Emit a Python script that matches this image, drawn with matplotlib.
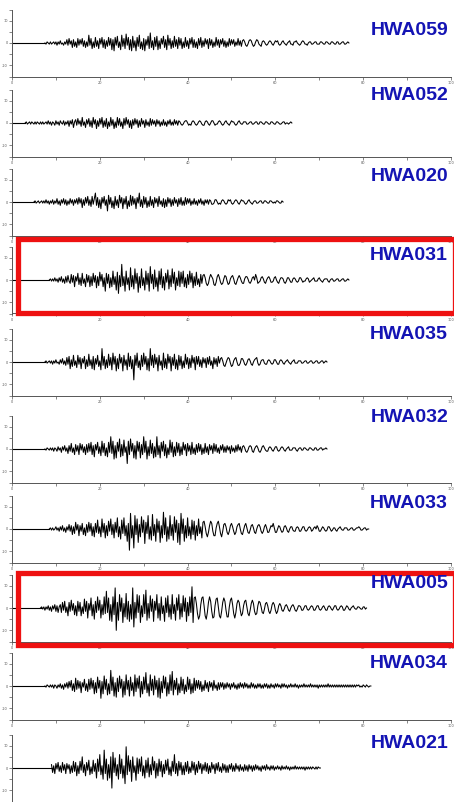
import numpy as np
import matplotlib.pyplot as plt
from matplotlib.patches import Rectangle

# station names, top to bottom
stations = ['HWA059', 'HWA052', 'HWA020', 'HWA031', 'HWA035',
            'HWA032', 'HWA033', 'HWA005', 'HWA034', 'HWA021']
highlighted = ['HWA031', 'HWA005']

# onset time (s) of each trace, then one sample every dt seconds
onsets = [7.5, 3.0, 5.0, 8.5, 7.5, 7.5, 8.5, 6.5, 7.5, 9.0]
dt = 0.25

# amplitudes, in half units (one row = 5 s)
hwa059 = [0, -1, 1, 0, -1, 1, -1, 0, 1, -1, 1, -2, 1, -1, 2, -1, 0, -2, 1, -1,
          3, -2, 4, -1, 2, -4, 3, -3, 1, -4, 4, -2, 3, -1, 4, -3, 2, -4, 1, -3,
          7, -2, 4, -5, 1, -4, 5, -3, 2, -5, 4, -1, 5, -4, 3, -5, 2, -3, 5, -2,
          4, -6, 3, -7, 5, -2, 6, -4, 1, -6, 7, -3, 4, -5, 8, -2, 5, -6, 3, -7,
          6, -4, 2, -7, 5, -3, 7, -5, 1, -6, 4, -7, 3, -2, 6, -5, 9, -4, 2, -6,
          5, -3, 6, -6, 2, -5, 4, -1, 6, -4, 3, -6, 7, -2, 4, -5, 2, -4, 6, -3,
          3, -5, 5, -2, 4, -5, 1, -4, 5, -3, 2, -5, 4, -1, 5, -4, 3, -4, 1, -5,
          4, -2, 5, -4, 2, -3, 4, -1, 3, -5, 4, -2, 3, -4, 1, -3, 5, -2, 3, -4,
          3, -1, 4, -3, 2, -4, 1, -3, 4, -2, 3, -1, 3, -3, 1, -2, 4, -2, 2, -3,
          2, 3, 1, -2, -3, -1, 2, 3, 2, -1, -3, -2, 1, 3, 2, -1, -2, -3, 1, 2,
          1, -1, -2, -1, 1, 2, 1, -1, -2, 0, 2, 1, 2, -1, -2, -1, 1, 2, 0, -1,
          -2, 0, 1, 2, -1, -1, -2, 1, 1, 2, 0, -1, -2, -1, 1, 2, 1, -1, -1, -2,
          0, 1, 1, -1, -1, 0, 1, 1, -1, -1, -1, 1, 1, 0, -1, -1, 1, 1, 0, -1,
          -1, 1, 1, 0, -1, -1, 1, 1, -1, -1, 0, 1, 1, -1, -1, 0, 1, 0]
hwa052 = [0, 1, -1, 0, 1, -1, 1, 0, -1, 1, -1, 1, 0, -1, 1, -1, 1, -1, 0, 1,
          -1, 2, -1, 1, -2, 1, 0, -2, 2, -1, 1, -2, 2, 0, -1, 2, -2, 1, -1, 2,
          -3, 2, -1, 3, -4, 1, 3, -2, 4, -1, 2, -3, 5, -2, 1, -4, 3, -1, 4, -3,
          2, -4, 5, -1, 3, -5, 2, -3, 4, -1, 5, -4, 2, -3, 4, -5, 1, -3, 5, -2,
          3, -5, 1, -4, 5, -2, 4, -3, 1, -5, 4, -2, 5, -1, 3, -4, 2, -5, 3, -2,
          4, -1, 3, -4, 2, -3, 4, -1, 2, -4, 3, -2, 1, -3, 4, -2, 3, -1, 2, -3,
          3, -1, 2, -3, 1, -2, 3, -2, 1, -3, 2, -1, 3, -2, 1, -2, 3, -1, 2, -2,
          2, 1, -1, -2, -1, 1, 2, 2, 0, -2, -1, -2, 1, 2, 1, -1, -2, -1, 1, 2,
          1, -1, -2, -2, 1, 2, 1, -1, -2, 0, 2, 2, 0, -2, -1, -1, 1, 2, 1, -1,
          -2, -1, 1, 2, 0, -1, -2, 0, 2, 1, 1, -1, -2, -1, 1, 2, 0, -1, -1, 1,
          1, 1, -1, -1, 0, 1, 1, -1, -1, 0, 1, 1, -1, -1, 1, 1, 0, -1, -1, 1,
          1, 0, -1, -1, 1, 1, 0, -1, -1, 1, 1, 0, -1, -1, 0, 1, 1, -1, 0, 0,
          -1, 0, 1, 0]
hwa020 = [0, 1, -1, 0, 1, -1, 0, 1, -1, 1, -1, 2, -1, 1, -2, 1, -1, 2, -2, 1,
          -1, 3, -2, 1, -3, 2, -1, 3, -2, 2, -3, 1, -2, 3, -1, 2, -3, 2, -1, 3,
          -2, 4, -1, 3, -5, 2, -3, 4, -1, 5, -3, 2, -4, 5, -2, 3, 8, -3, 4, -5,
          2, -6, 4, -1, 5, -3, 2, -8, 6, -2, 4, -5, 1, -6, 5, -3, 2, -5, 6, -1,
          4, -6, 3, -2, 5, -6, 1, -4, 6, -3, 5, -2, 3, -6, 4, -1, 8, -4, 2, -5,
          5, -2, 4, -5, 1, -4, 5, -3, 2, -5, 4, -1, 3, -4, 5, -2, 1, -4, 3, -5,
          2, -4, 4, -1, 3, -4, 2, -3, 4, -1, 2, -4, 3, -2, 4, -3, 1, -3, 4, -2,
          3, -1, 3, -3, 1, -2, 3, -2, 1, -3, 2, -1, 3, -2, 1, -3, 2, -1, 2, -2,
          2, 1, -2, -2, -1, 2, 2, 0, -2, -1, -2, 1, 2, 1, -1, -2, -1, 2, 1, 2,
          -1, -2, -1, 1, 2, 1, -1, -2, 0, 2, 1, 1, -1, -2, -1, 1, 2, 0, -1, -2,
          0, 1, 1, -1, -1, 0, 1, 1, -1, -1, 1, 1, 0, -1, -1, 1, 1, 0, -1, 0,
          -1, 1, 1, 0, -1, -1, 1, 0]
hwa031 = [0, 1, -1, 1, -1, 2, -1, 1, -2, 2, -1, 3, -2, 1, -3, 3, -2, 4, -1, -3,
          5, -2, 4, -6, 3, -1, 6, -4, 2, -5, 6, -3, 1, -6, 5, -2, 4, -6, 3, -5,
          6, -2, 4, -7, 3, -5, 7, -1, 5, -6, 2, -10, 6, -3, 5, -7, 2, -6, 8, -4,
          3, -9, 7, -12, 4, -6, 14, -5, 3, -10, 8, -4, 2, -9, 11, -6, 4, -8, 10, -3,
          6, -11, 3, -7, 10, -5, 2, -9, 8, -4, 6, -10, 12, -3, 5, -8, 9, -6, 2, -10,
          8, -4, 10, -7, 3, -9, 6, -2, 9, -8, 4, -6, 10, -3, 7, -9, 2, -5, 8, -6,
          7, -3, 8, -6, 2, -7, 5, -4, 8, -2, 6, -7, 3, -5, 7, -4, 1, -6, 5, -3,
          4, 5, 2, -3, -5, -3, 2, 5, 3, 1, -4, -5, -2, 3, 5, 2, -2, -4, -3, 1,
          4, 3, -1, -4, -3, 1, 3, 4, 1, -3, -4, -1, 2, 4, 2, -1, -3, -3, 1, 3,
          3, 1, -2, -3, -1, 2, 3, 0, 5, 2, -3, -2, -1, 2, 3, 1, -2, -3, 0, 2,
          3, 1, -2, -2, -1, 2, 3, 0, -2, -3, 0, 2, 2, 1, -2, -3, -1, 2, 2, 0,
          -2, -2, 1, 2, 1, -1, -2, -1, 2, 2, 0, -2, -1, -1, 1, 2, 1, -2, -1, 0,
          1, 2, -1, -1, -1, 1, 2, 0, -1, -2, 0, 1, 1, 1, -1, -2, 0, 1, 1, -1,
          -1, 0, 1, 1, -1, -1, 0, 1, 1, -1, -1, 0, 1, 0]
hwa035 = [0, 1, -1, 0, 1, -1, 1, -2, 1, -1, 2, -1, 0, -2, 2, -1, 3, -2, 1, -3,
          4, -2, 5, -6, 2, -4, 6, -3, 1, -5, 6, -2, 4, -6, 3, -1, 5, -6, 2, -4,
          7, -3, 2, -6, 5, -7, 3, -2, 6, -4, 1, -7, 12, -3, 5, -6, 2, -5, 7, -3,
          4, -7, 8, -2, 5, -8, 3, -6, 7, -1, 4, -8, 6, -3, 2, -7, 8, -4, 5, -6,
          2, -16, 6, -3, 8, -5, 1, -7, 6, -4, 8, -2, 5, -7, 3, -8, 12, -3, 6, -5,
          7, -2, 4, -8, 6, -3, 1, -7, 8, -5, 3, -6, 7, -1, 5, -8, 4, -3, 7, -6,
          2, -7, 6, -3, 5, -6, 1, -5, 7, -2, 4, -6, 3, -5, 6, -1, 4, -7, 5, -2,
          5, -4, 2, -5, 4, -1, 3, -5, 4, -2, 5, -3, 1, -6, 4, -2, 3, -4, 5, -1,
          3, 4, 1, -3, -4, -1, 2, 4, 3, -1, -4, -3, 1, 3, 4, 0, -3, -3, -1, 3,
          3, 1, -2, -3, -1, 2, 3, 1, -2, -3, 0, 2, 3, 4, -1, -3, -2, 1, 2, 2,
          -1, -2, -2, 1, 2, 1, -1, -2, -1, 2, 2, 0, -2, -2, 1, 2, 1, -1, -2, 0,
          1, 2, 0, -1, -2, 0, 1, 2, -1, -1, -1, 1, 1, 1, -1, -1, 0, 1, 1, -1,
          -1, 0, 1, 1, -1, -1, 0, 1, 1, -1, -1, 0, 1, 1, -1, 0, 1, 0]
hwa032 = [0, -1, 1, 0, -1, 1, -1, 1, -2, 1, 0, -2, 2, -1, 1, -3, 2, -1, 3, -2,
          1, -4, 3, -2, 5, -3, 1, -5, 4, -2, 3, -5, 5, -1, 4, -3, 2, -5, 4, -3,
          5, -2, 6, -5, 3, -7, 4, -1, 6, -4, 2, -6, 7, -3, 5, -6, 1, -7, 6, -3,
          11, -4, 7, -9, 3, -8, 6, -2, 9, -7, 4, -6, 8, -3, 2, -13, 7, -5, 9, -2,
          5, -8, 3, -9, 7, -2, 6, -8, 4, -5, 11, -3, 7, -9, 2, -6, 8, -4, 5, -8,
          2, -7, 11, -5, 3, -8, 6, -2, 7, -6, 4, -8, 1, -5, 8, -3, 6, -7, 2, -6,
          6, -3, 5, -6, 2, -5, 6, -1, 4, -6, 5, -2, 3, -5, 6, -4, 1, -5, 4, -3,
          5, -2, 4, -5, 1, -4, 5, -3, 2, -5, 4, -1, 3, -4, 5, -2, 4, -3, 1, -4,
          3, -1, 4, -3, 2, -3, 3, -1, 2, -4, 3, -2, 1, -3, 3, -2, 4, -1, 2, -3,
          2, 3, 1, -2, -3, -1, 2, 3, 2, -2, -3, 0, 2, 3, 1, -2, -3, -1, 2, 3,
          1, -1, -2, -2, 1, 2, 1, -1, -2, 0, 2, 2, -1, -2, -1, 1, 2, 1, -1, -2,
          0, 1, 2, -1, -1, -1, 1, 1, 1, -1, -2, 0, 1, 1, -1, -1, 1, 1, 0, -1,
          -1, 1, 1, 0, -1, -1, 1, 1, -1, -1, 0, 1, 1, -1, 0, 0, 1, 0]
hwa033 = [0, 1, -1, 1, -1, 0, 2, -1, 1, -2, 2, -1, 3, -2, 1, -3, 2, -1, 4, -2,
          3, -5, 2, -4, 6, -1, 4, -6, 3, -2, 5, -5, 1, -6, 4, -3, 6, -2, 5, -6,
          2, -7, 5, -3, 8, -4, 2, -7, 9, -3, 5, -8, 3, -6, 7, -2, 9, -5, 4, -8,
          6, -3, 10, -7, 2, -9, 8, -4, 10, -6, 3, -11, 5, -19, 14, -8, 3, -17, 12, -5,
          9, -12, 4, -7, 11, -3, 8, -13, 6, -4, 12, -9, 2, -10, 13, -6, 4, -11, 9, -3,
          7, -12, 3, -8, 15, -5, 10, -11, 2, -9, 12, -6, 4, -10, 11, -3, 8, -12, 5, -14,
          14, -4, 9, -11, 3, -8, 10, -6, 2, -9, 8, -5, 7, -10, 3, -6, 9, -4, 2, -8,
          6, 7, 2, -4, -7, -3, 3, 7, 5, -2, -6, -6, 1, 5, 7, 2, -4, -7, -2, 4,
          5, 2, -3, -5, -2, 3, 5, 2, -2, -5, -3, 2, 4, 5, 0, -4, -5, -1, 3, 5,
          1, -3, -4, -1, 3, 4, 1, -3, -4, 0, 3, 4, 2, -2, -4, -2, 2, 4, 1, -3,
          -3, 0, 3, 2, 5, 1, -3, -3, 0, 3, 2, -1, -3, -2, 2, 3, 1, -2, -3, 0,
          2, 2, -1, -2, -2, 1, 2, 1, -2, -2, 0, 2, 2, -1, -2, -1, 1, 2, 1, -2,
          -1, 1, 2, 0, 3, 1, -2, -2, 0, 2, 1, -1, -2, -1, 2, 2, 0, -2, -1, 1,
          1, -1, -2, 0, 1, 2, 0, -1, -1, 1, 1, 1, -1, -1, 0, 1, 1, -1, -1, 0,
          1, 1, 2, 1, -1, -1, 0, 1, 1, -1, 0, 0]
hwa005 = [0, 1, -1, 1, -2, 1, -1, 2, -2, 1, -3, 2, -1, 3, -3, 2, -4, 1, 3, -4,
          5, -2, 6, -4, 1, -7, 5, -3, 7, -2, 4, -6, 2, -7, 6, -3, 5, -7, 1, -5,
          8, -3, 6, -9, 4, -2, 9, -7, 3, -10, 6, -4, 10, -2, 7, -9, 3, -6, 10, -5,
          15, -4, 9, -11, 3, -12, 10, -6, 18, -20, 5, -11, 12, -3, 9, -13, 4, -8, 13, -10,
          6, -12, 3, -10, 18, -17, 5, -9, 12, -4, 11, -13, 2, -8, 12, -5, 16, -11, 4, -9,
          11, -3, 8, -12, 6, -2, 12, -9, 4, -11, 10, -5, 2, -12, 9, -4, 11, -8, 3, -10,
          12, -5, 3, -11, 9, -2, 12, -10, 4, -8, 11, -3, 9, -12, 5, -7, 10, -4, 19, -13,
          9, 10, 4, -5, -10, -7, 3, 9, 10, 2, -7, -10, -4, 5, 10, 6, -3, -9, -8, 2,
          8, 9, 1, -7, -9, -3, 5, 9, 6, -2, -8, -8, 1, 7, 9, 3, -5, -9, -4, 4,
          7, 5, -2, -7, -5, 2, 6, 7, 1, -5, -7, -2, 4, 7, 4, -3, -6, -5, 2, 6,
          5, 1, -4, -5, -1, 4, 5, 2, -3, -5, -2, 3, 5, 3, -2, -5, -3, 2, 4, 2,
          -2, -3, -1, 2, 3, 1, -2, -3, 0, 2, 3, 1, -2, -3, -1, 2, 2, 1, -2, -2,
          0, 2, 2, -1, -2, -1, 1, 2, 1, -2, -2, 0, 2, 2, -1, -2, -1, 1, 2, 0,
          -2, -2, 1, 2, 1, -1, -2, 0, 2, 2, -1, -2, -1, 1, 2, 1, -2, -2, 0, 2,
          1, -1, -2, 0, 1, 2, 0, -1, -1, 1, 1, 0, -1, -1, 1, 1, -1, 0]
hwa034 = [0, -1, 1, 0, -1, 1, -1, 1, -2, 1, 0, -2, 1, -1, 2, -2, 1, -3, 2, -1,
          3, -2, 4, -1, 5, -4, 2, -5, 7, -3, 5, -2, 4, -6, 3, -1, 6, -4, 2, -5,
          6, -3, 7, -2, 5, -7, 3, -6, 8, -2, 5, -11, 4, -7, 9, -3, 6, -8, 2, -7,
          14, -4, 8, -9, 3, -10, 7, -5, 9, -2, 6, -10, 4, -8, 10, -3, 5, -9, 8, -4,
          3, -9, 10, -5, 7, -2, 9, -10, 4, -7, 8, -3, 12, -6, 2, -9, 10, -4, 6, -8,
          9, -3, 5, -10, 7, -11, 4, -6, 9, -2, 8, -9, 3, -7, 10, -4, 13, -8, 5, -3,
          7, -8, 2, -6, 8, -4, 6, -7, 1, -5, 8, -3, 6, -7, 2, -6, 7, -4, 5, -2,
          5, -3, 4, -5, 1, -4, 5, -2, 3, -5, 4, -1, 3, -4, 5, -2, 1, -4, 3, -3,
          3, -1, 3, -3, 2, -2, 3, -1, 2, -3, 2, -1, 3, -2, 1, -3, 2, -2, 3, -1,
          2, -2, 3, -1, 2, -2, 1, -2, 3, -1, 2, -2, 1, -2, 2, -1, 2, -2, 1, -2,
          2, -1, 2, -2, 1, -2, 2, -1, 1, -2, 2, -1, 2, -1, 1, -2, 2, -1, 2, -1,
          1, -2, 1, -1, 2, -1, 1, -1, 2, -1, 1, -2, 1, -1, 1, -1, 2, -1, 1, -1,
          1, -1, 2, -1, 1, -1, 1, -1, 1, -2, 1, -1, 1, -1, 1, -1, 1, -1, 2, -1,
          1, -1, 1, -1, 1, -1, 1, -1, 1, -1, 1, -1, 1, -1, 1, -1, 1, -1, 1, -1,
          1, -1, 1, -1, 1, 0, 1, -1, 0, -1, 1, 0, -1, 1, 0, -1, 0, 0]
hwa021 = [3, -4, 2, -5, 4, -1, 5, -3, 2, -4, 5, -2, 3, -5, 4, -1, 3, -5, 2, -4,
          6, -3, 5, -7, 2, -5, 6, -2, 10, -4, 3, -7, 5, -2, 7, -6, 1, -5, 7, -3,
          4, -9, 8, -3, 12, -6, 2, -10, 16, -5, 8, -11, 3, -9, 10, -18, 14, -4, 9, -7,
          3, -10, 12, -5, 8, -9, 2, -14, 19, -6, 11, -3, 7, -12, 10, -4, 2, -11, 9, -5,
          8, -3, 10, -7, 2, -9, 7, -4, 9, -8, 3, -6, 10, -2, 6, -9, 4, -7, 8, -3,
          6, -8, 3, -5, 7, -2, 8, -6, 1, -7, 6, -3, 12, -5, 4, -7, 6, -2, 5, -6,
          2, -6, 5, -3, 6, -5, 1, -4, 6, -2, 5, -6, 3, -4, 6, -1, 4, -5, 3, -2,
          5, -3, 4, -5, 2, -4, 5, -1, 3, -5, 4, -2, 5, -3, 1, -4, 4, -2, 3, -4,
          2, -4, 3, -1, 4, -3, 2, -3, 4, -1, 2, -3, 3, -2, 1, -3, 3, -2, 2, -3,
          3, -1, 2, -3, 2, -2, 3, -1, 2, -2, 1, -3, 2, -1, 2, -2, 3, -1, 1, -2,
          2, -1, 2, -2, 1, -1, 2, -1, 1, -2, 2, -1, 1, -1, 2, -1, 1, -2, 1, -1,
          1, -1, 2, -1, 1, -1, 1, -1, 1, -1, 1, -2, 1, -1, 1, -1, 1, -1, 1, 0,
          -1, 1, -1, 1, 0, 0]
traces = [hwa059, hwa052, hwa020, hwa031, hwa035,
          hwa032, hwa033, hwa005, hwa034, hwa021]

W, H = 454, 802
fig = plt.figure(figsize=(W / 100, H / 100), dpi=100)

# layout in pixels (zero line of each panel, label centre)
zero_px = [43, 123, 202, 280, 362, 449, 529, 608, 686, 768]
label_px = [30.5, 96, 176.5, 256, 334.5, 418, 503.5, 583.5, 663.5, 743.5]
half = 33.5
left, right = 12, 451

for k, name in enumerate(stations):
    ax = fig.add_axes([left / W, 1 - (zero_px[k] + half) / H,
                       (right - left) / W, 2 * half / H])
    amp = np.array(traces[k]) / 2.0
    t = onsets[k] + dt * np.arange(len(amp))
    ax.plot([0, onsets[k]], [0, 0], color='black', lw=0.8)
    ax.plot(t, amp, color='black', lw=0.75)
    ax.set_xlim(0, 100)
    ax.set_ylim(-15, 15)
    ax.set_xticks(range(0, 101, 10))
    if k < len(stations) - 1:
        ax.set_xticklabels([str(v) if v % 20 == 0 else '' for v in range(0, 101, 10)])
    else:
        ax.set_xticklabels([])
    ax.set_yticks(range(-15, 16, 5))
    ax.set_yticklabels([str(v) if v % 10 == 0 else '' for v in range(-15, 16, 5)])
    ax.tick_params(length=2, width=0.5, labelsize=2.5, colors='#555555',
                   pad=1)
    for s in ['top', 'right']:
        ax.spines[s].set_visible(False)
    for s in ['left', 'bottom']:
        ax.spines[s].set_color('#555555')
        ax.spines[s].set_linewidth(0.7)
    fig.text(448 / W, 1 - label_px[k] / H, name, ha='right', va='center',
             fontsize=14, fontweight='bold', color='#1414b4',
             family='Liberation Sans')

# red boxes around highlighted stations
boxes = {'HWA031': (239.5, 313.5), 'HWA005': (572.5, 645)}
for name in highlighted:
    top, bot = boxes[name]
    fig.add_artist(Rectangle((18 / W, 1 - bot / H), (454.5 - 18) / W,
                             (bot - top) / H, transform=fig.transFigure,
                             fill=False, edgecolor='#ee1111', lw=3.8))

fig.savefig('out.png', dpi=100)
